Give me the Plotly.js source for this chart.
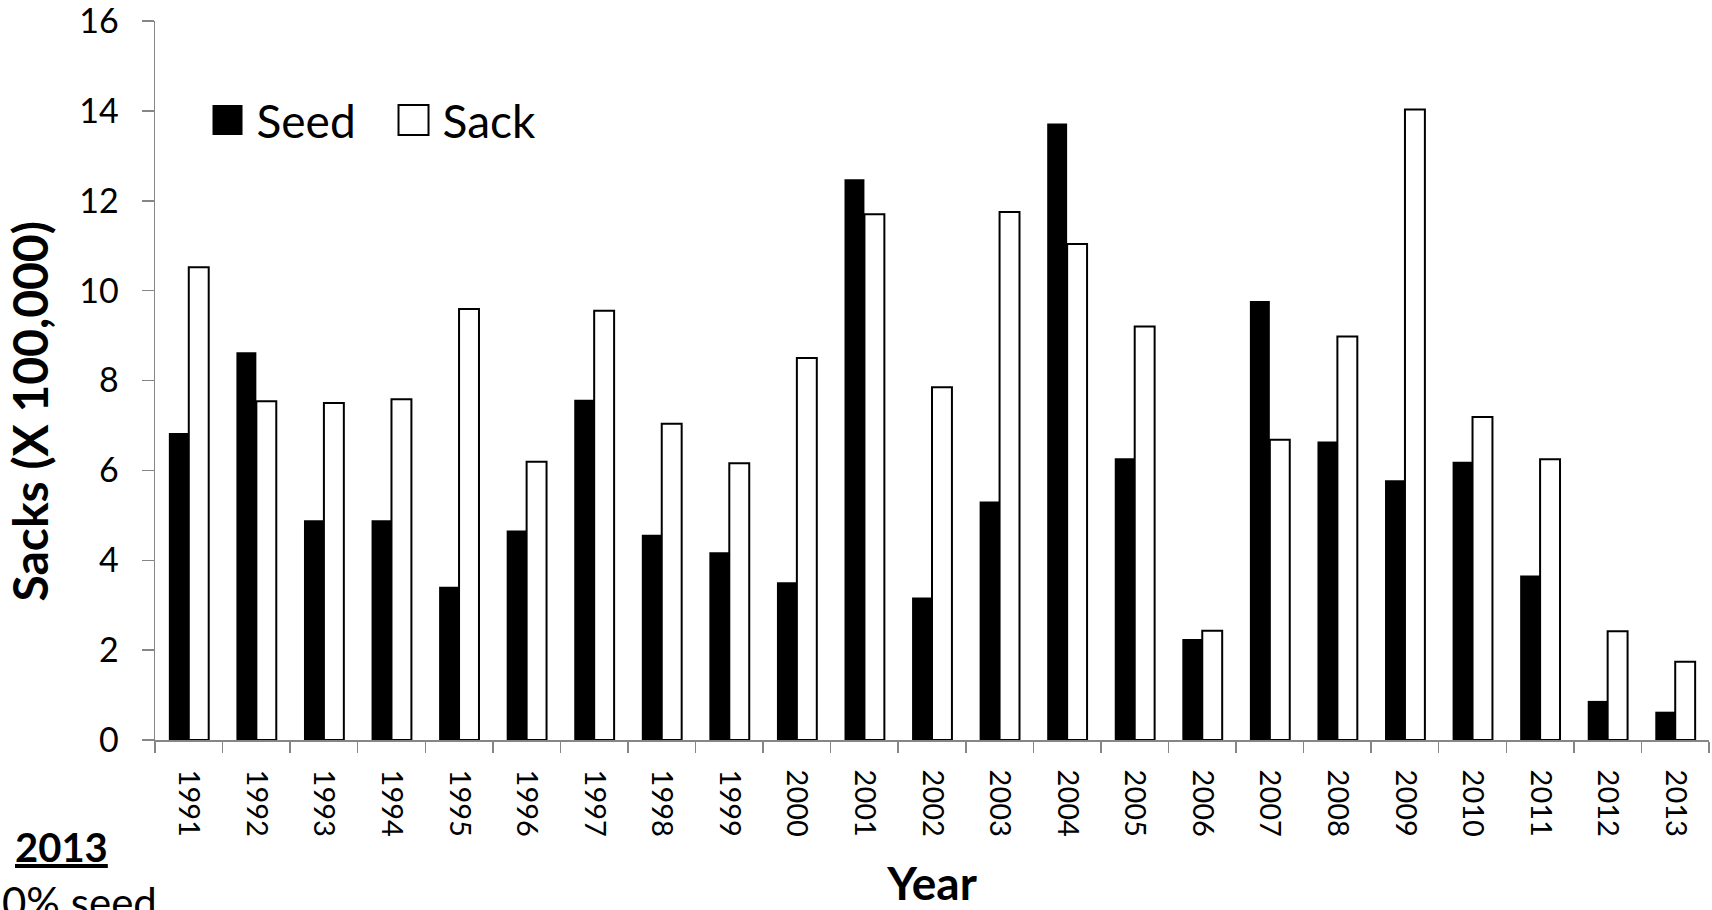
<!DOCTYPE html>
<html>
<head>
<meta charset="utf-8">
<script src="https://cdn.plot.ly/plotly-3.0.1.min.js"></script>
<style>
  html, body { margin: 0; padding: 0; background: #ffffff; }
  #chart { width: 1712px; height: 910px; }
</style>
</head>
<body>
<div id="chart"></div>
<script>
// ---- data ----
const years = ['1991','1992','1993','1994','1995','1996','1997','1998','1999','2000',
               '2001','2002','2003','2004','2005','2006','2007','2008','2009','2010',
               '2011','2012','2013'];
const seedValues = [6.83, 8.63, 4.89, 4.89, 3.41, 4.66, 7.57, 4.57, 4.18, 3.51,
                    12.48, 3.17, 5.31, 13.72, 6.27, 2.25, 9.77, 6.64, 5.78, 6.19,
                    3.66, 0.87, 0.63];
const sackValues = [10.52, 7.54, 7.50, 7.58, 9.59, 6.19, 9.55, 7.04, 6.16, 8.50,
                    11.70, 7.85, 11.75, 11.04, 9.20, 2.43, 6.68, 8.98, 14.03, 7.19,
                    6.25, 2.42, 1.74];
const seriesNames = ['Seed', 'Sack'];
const yTickValues = [0, 2, 4, 6, 8, 10, 12, 14, 16];
const yTitle = 'Sacks (X 100,000)';
const xTitle = 'Year';
const noteHeading = '2013';
const noteLine = '0% seed';

// ---- styling ----
const FONT = 'Lato, "Open Sans", sans-serif';
const AXIS_GRAY = '#868686';
const NBSP = '\u00a0';
const Y_LABEL_EXTRA_GAP = 16;   // extra px between y tick labels and their ticks

const traces = [
  {
    type: 'bar', name: seriesNames[0], x: years, y: seedValues,
    marker: { color: '#000000', line: { color: '#000000', width: 0 } }
  },
  {
    type: 'bar', name: seriesNames[1], x: years, y: sackValues,
    marker: { color: '#ffffff', line: { color: '#000000', width: 2 } }
  }
];

const layout = {
  width: 1712, height: 910,
  margin: { l: 155, r: 3, t: 21, b: 170, pad: 0 },
  paper_bgcolor: '#ffffff', plot_bgcolor: '#ffffff',
  font: { family: FONT, color: '#000000', size: 30 },
  barmode: 'group', bargap: 0.41, bargroupgap: 0,
  showlegend: true,
  legend: {
    orientation: 'h', x: 0.028, xanchor: 'left', y: 0.862, yanchor: 'middle',
    font: { family: FONT, size: 46, color: '#000000' },
    bgcolor: 'rgba(0,0,0,0)', borderwidth: 0,
    itemwidth: 48, entrywidth: 123, traceorder: 'normal'
  },
  xaxis: {
    type: 'category', tickson: 'boundaries',
    ticks: 'outside', ticklen: 11, tickwidth: 1.5, tickcolor: AXIS_GRAY,
    showline: true, linecolor: AXIS_GRAY, linewidth: 1.5,
    showgrid: false, zeroline: false,
    tickangle: 90, tickfont: { family: FONT, size: 29, color: '#000000' },
    tickprefix: NBSP + NBSP + NBSP,
    title: { text: '<b>' + xTitle + '</b>', font: { family: FONT, size: 46, color: '#000000' }, standoff: 46 },
    automargin: false
  },
  yaxis: {
    range: [0, 16], tickmode: 'array', tickvals: yTickValues,
    ticks: 'outside', ticklen: 12, tickwidth: 1.5, tickcolor: AXIS_GRAY,
    showline: true, linecolor: AXIS_GRAY, linewidth: 1.5,
    showgrid: false, zeroline: false,
    tickfont: { family: FONT, size: 34, color: '#000000' },
    ticklabeloverflow: 'allow',
    automargin: false
  },
  annotations: [
    {
      text: '<b>' + yTitle + '</b>', textangle: -90,
      xref: 'paper', yref: 'paper', x: -0.081, y: 0.457,
      xanchor: 'center', yanchor: 'middle', showarrow: false,
      font: { family: FONT, size: 48, color: '#000000' }
    },
    {
      text: '<b><u>' + noteHeading + '</u></b>',
      xref: 'paper', yref: 'paper', x: -0.0915, y: -0.149,
      xanchor: 'left', yanchor: 'middle', showarrow: false,
      font: { family: FONT, size: 40, color: '#000000' }
    },
    {
      text: noteLine,
      xref: 'paper', yref: 'paper', x: -0.0997, y: -0.188,
      xanchor: 'left', yanchor: 'top', showarrow: false,
      font: { family: FONT, size: 42, color: '#000000' }
    }
  ]
};

Plotly.newPlot('chart', traces, layout, { displayModeBar: false, staticPlot: true }).then(function (gd) {
  // enlarge the legend swatches to the size used in the reference
  gd.querySelectorAll('.legend .legendpoints path').forEach(function (p) {
    p.setAttribute('d', 'M15,15H-15V-15H15Z');
  });
  // leave the same gap between y tick labels and ticks as the reference
  gd.querySelectorAll('g.ytick text').forEach(function (t) {
    t.setAttribute('dx', String(-Y_LABEL_EXTRA_GAP));
  });
});
</script>
</body>
</html>
